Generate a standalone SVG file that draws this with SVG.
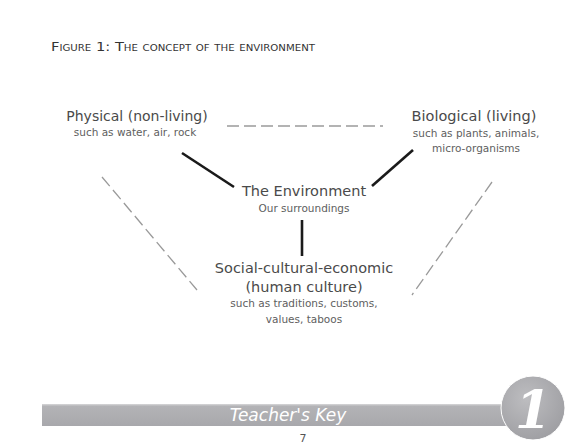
<svg xmlns="http://www.w3.org/2000/svg" width="586" height="445" viewBox="0 0 586 445">
<defs>
<style>
.ttl{font-family:"DejaVu Sans","Liberation Sans",sans-serif;fill:#4a4a4a;text-anchor:middle}
.sub{font-family:"DejaVu Sans","Liberation Sans",sans-serif;fill:#606060;text-anchor:middle;font-size:10.5px}
.dash{stroke:#9a9a9a;stroke-width:1.3;stroke-dasharray:12 5;fill:none}
.solid{stroke:#1a1a1a;stroke-width:2.6;fill:none}
</style>
<linearGradient id="bar" x1="0" y1="0" x2="0" y2="1">
<stop offset="0" stop-color="#d8d8da"/>
<stop offset="0.1" stop-color="#b3b3b6"/>
<stop offset="1" stop-color="#a8a8ac"/>
</linearGradient>
<radialGradient id="circ" cx="0.4" cy="0.35" r="0.7">
<stop offset="0" stop-color="#bdbdc0"/>
<stop offset="1" stop-color="#9e9ea2"/>
</radialGradient>
</defs>
<rect width="586" height="445" fill="#ffffff"/>
<text x="51" y="51" font-family="'DejaVu Sans',sans-serif" font-size="13" fill="#333" style="font-variant:small-caps" textLength="264" lengthAdjust="spacingAndGlyphs">Figure 1: The concept of the environment</text>
<g id="connectors">
<line class="dash" x1="227" y1="126" x2="383" y2="126"/>
<line class="dash" x1="102" y1="177" x2="197" y2="290"/>
<line class="dash" x1="492" y1="182" x2="412" y2="295"/>
<line class="solid" x1="182" y1="153" x2="234" y2="187"/>
<line class="solid" x1="413" y1="150" x2="372" y2="186"/>
<line class="solid" x1="302" y1="220" x2="302" y2="256"/>
</g>
<g id="physical">
<text class="ttl" x="137" y="121" font-size="14">Physical (non-living)</text>
<text class="sub" x="135" y="136">such as water, air, rock</text>
</g>
<g id="biological">
<text class="ttl" x="474" y="121" font-size="14.5">Biological (living)</text>
<text class="sub" x="476" y="137">such as plants, animals,</text>
<text class="sub" x="476" y="152">micro-organisms</text>
</g>
<g id="environment">
<text class="ttl" x="304" y="196" font-size="14.5">The Environment</text>
<text class="sub" x="304" y="212">Our surroundings</text>
</g>
<g id="social">
<text class="ttl" x="304" y="273" font-size="14.5">Social-cultural-economic</text>
<text class="ttl" x="304" y="292" font-size="14.5">(human culture)</text>
<text class="sub" x="304" y="307">such as traditions, customs,</text>
<text class="sub" x="304" y="323">values, taboos</text>
</g>
<g id="footer">
<rect x="42" y="404" width="470" height="22" fill="url(#bar)"/>
<circle cx="533" cy="408" r="32" fill="url(#circ)" stroke="#ffffff" stroke-width="1"/>
<text x="288" y="421" font-family="'DejaVu Sans',sans-serif" font-style="italic" font-size="17" fill="#ffffff" text-anchor="middle">Teacher's Key</text>
<text x="533" y="428" font-family="'DejaVu Serif',serif" font-style="italic" font-weight="bold" font-size="52" fill="#ffffff" text-anchor="middle">1</text>
<text x="303" y="442" font-family="'DejaVu Sans',sans-serif" font-size="11" fill="#555" text-anchor="middle">7</text>
</g>
</svg>
